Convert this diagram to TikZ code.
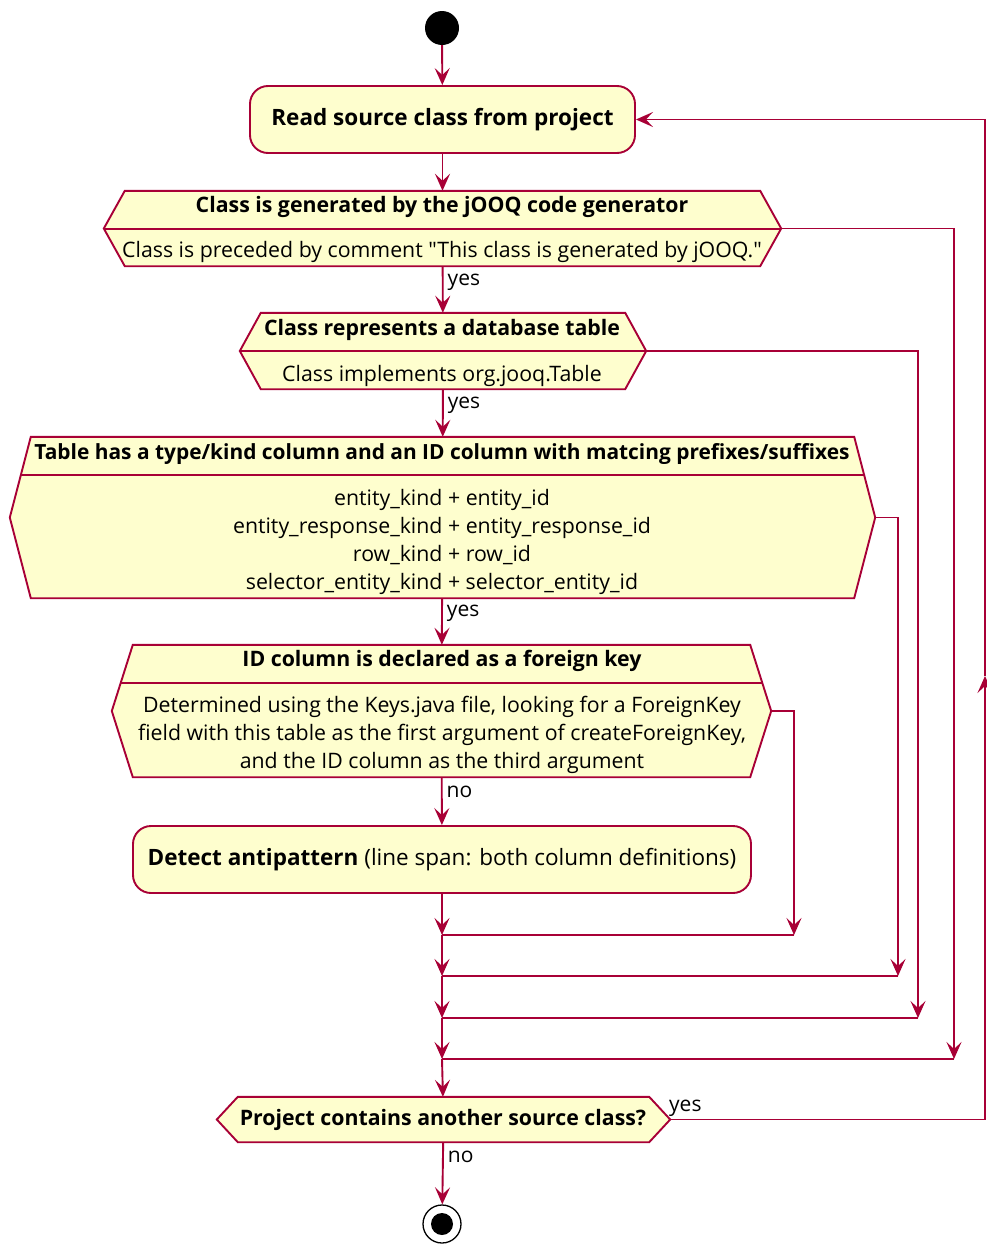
\documentclass[tikz,border=0pt]{standalone}
\usepackage{fontspec}
\setmainfont{Open Sans}[Ligatures=TeXOff]
\usetikzlibrary{arrows.meta,backgrounds}
\definecolor{umlline}{HTML}{A80036}
\definecolor{umlfill}{HTML}{FEFECE}

\tikzset{
  flow/.style={draw=umlline, line width=1.9pt, -{Stealth[length=17pt,width=15pt,inset=7pt]}},
  link/.style={draw=umlline, line width=1.9pt},
  action/.style={draw=umlline, fill=umlfill, line width=1.9pt, rounded corners=18pt,
    inner sep=0pt, font=\fontsize{22.5}{27}\selectfont},
  hexframe/.style={rectangle, draw=none, inner sep=0pt},
  hexline/.style={draw=umlline, fill=umlfill, line width=1.9pt, line join=miter},
  title/.style={inner sep=0pt, font=\bfseries\fontsize{21.3}{25}\selectfont},
  widetitle/.style={inner sep=0pt, font=\bfseries\fontsize{20.9}{25}\selectfont},
  body/.style={inner sep=0pt, align=center, font=\fontsize{21.3}{28}\selectfont},
  lbl/.style={inner sep=2pt, font=\fontsize{21}{25}\selectfont},
  startdot/.style={circle, fill=black, minimum size=34pt, inner sep=0pt},
  endring/.style={circle, draw=black, line width=1.3pt, minimum size=38pt, inner sep=0pt},
  enddot/.style={circle, fill=black, minimum size=22pt, inner sep=0pt},
}

\begin{document}
\begin{tikzpicture}[x=1pt, y=-1pt]
\useasboundingbox (0,0) rectangle (987,1245);

% start / end
\node[startdot] (start) at (442,28) {};
\node[endring] (end) at (442,1224) {};
\node[enddot] (enddot) at (end) {};

% actions
\node[action, minimum width=385pt, minimum height=67pt] (read) at (442.5,119.5)
  {\textbf{Read source class from project}};
\node[action, minimum width=618pt, minimum height=67pt] (detect) at (442,859.5)
  {\textbf{Detect antipattern} (line span: both column definitions)};

% decision frames (inner rectangle between the slanted corners)
\node[hexframe, minimum width=635pt, minimum height=75pt]  (h1) at (442.5,228.5) {};
\node[hexframe, minimum width=364pt, minimum height=76pt]  (h2) at (443,351) {};
\node[hexframe, minimum width=823pt, minimum height=161pt] (h3) at (442.5,517.5) {};
\node[hexframe, minimum width=617pt, minimum height=132pt] (h4) at (441.5,711) {};
\node[hexframe, minimum width=411pt, minimum height=45pt]  (h5) at (443.5,1119.5) {};

% decision texts
\node[title] (h1t) at (442,207) {Class is generated by the jOOQ code generator};
\node[body]  (h1b) at (442,252) {Class is preceded by comment "This class is generated by jOOQ."};
\node[title] (h2t) at (442,330) {Class represents a database table};
\node[body]  (h2b) at (442,376) {Class implements org.jooq.Table};
\node[widetitle] (h3t) at (442,454) {Table has a type/kind column and an ID column with matcing prefixes/suffixes};
\node[body]  (h3b) at (442,542) {entity\_kind + entity\_id\\entity\_response\_kind + entity\_response\_id\\row\_kind + row\_id\\selector\_entity\_kind + selector\_entity\_id};
\node[title] (h4t) at (442,661) {ID column is declared as a foreign key};
\node[body]  (h4b) at (442,735) {Determined using the Keys.java file, looking for a ForeignKey\\field with this table as the first argument of createForeignKey,\\and the ID column as the third argument};
\node[title] (h5t) at (443,1120) {Project contains another source class?};

% hexagon outlines and dividers behind the texts
\begin{scope}[on background layer]
  \foreach \h in {h1,h2,h3,h4,h5}{
    \path[hexline] ([xshift=-21pt]\h.west) -- (\h.north west) -- (\h.north east)
      -- ([xshift=21pt]\h.east) -- (\h.south east) -- (\h.south west) -- cycle;
  }
  \foreach \h/\d in {h1/229,h2/351,h3/475,h4/683}{
    \begin{scope}
      \clip ([xshift=-21pt]\h.west) -- (\h.north west) -- (\h.north east)
        -- ([xshift=21pt]\h.east) -- (\h.south east) -- (\h.south west) -- cycle;
      \draw[link] (0,\d) -- (987,\d);
    \end{scope}
  }
\end{scope}

% branch points
\coordinate (h1r) at ([xshift=21pt]h1.east);
\coordinate (h2r) at ([xshift=21pt]h2.east);
\coordinate (h3r) at ([xshift=21pt]h3.east);
\coordinate (h4r) at ([xshift=21pt]h4.east);
\coordinate (h5r) at ([xshift=21pt]h5.east);

% merge points on the main line and ends of the side branches
\coordinate (m1) at (442,935);
\coordinate (m2) at (442,976);
\coordinate (m3) at (442,1018);
\coordinate (m4) at (442,1059);
\coordinate (b1) at (794,935);
\coordinate (b2) at (898,976);
\coordinate (b3) at (918,1018);
\coordinate (b4) at (954,1059);
\coordinate (loopup) at (985,676);

% main flow
\draw[flow] (start) -- (read);
\draw[flow] (read) -- (h1);
\draw[flow] (h1) -- node[lbl, pos=0.34, anchor=west, xshift=2pt] {yes} (h2);
\draw[flow] (h2) -- node[lbl, pos=0.34, anchor=west, xshift=2pt] {yes} (h3);
\draw[flow] (h3) -- node[lbl, pos=0.32, anchor=west, xshift=2pt] {yes} (h4);
\draw[flow] (h4) -- node[lbl, pos=0.30, anchor=west, xshift=2pt] {no} (detect);
\draw[flow] (detect) -- (m1);
\draw[flow] (m1) -- (m2);
\draw[flow] (m2) -- (m3);
\draw[flow] (m3) -- (m4);
\draw[flow] (m4) -- (h5);
\draw[flow] (h5) -- node[lbl, pos=0.24, anchor=west, xshift=2pt] {no} (end);

% side branches joining the main line
\draw[flow] (h4r) -| (b1);
\draw[link] (b1) -- (m1);
\draw[flow] (h3r) -| (b2);
\draw[link] (b2) -- (m2);
\draw[flow] (h2r) -| (b3);
\draw[link] (b3) -- (m3);
\draw[flow] (h1r) -| (b4);
\draw[link] (b4) -- (m4);

% loop back to the first action
\draw[flow] (h5r) -| node[lbl, pos=0, anchor=south west, xshift=-4pt] {yes} (loopup);
\draw[flow] (loopup) |- (read.east);
\end{tikzpicture}
\end{document}
